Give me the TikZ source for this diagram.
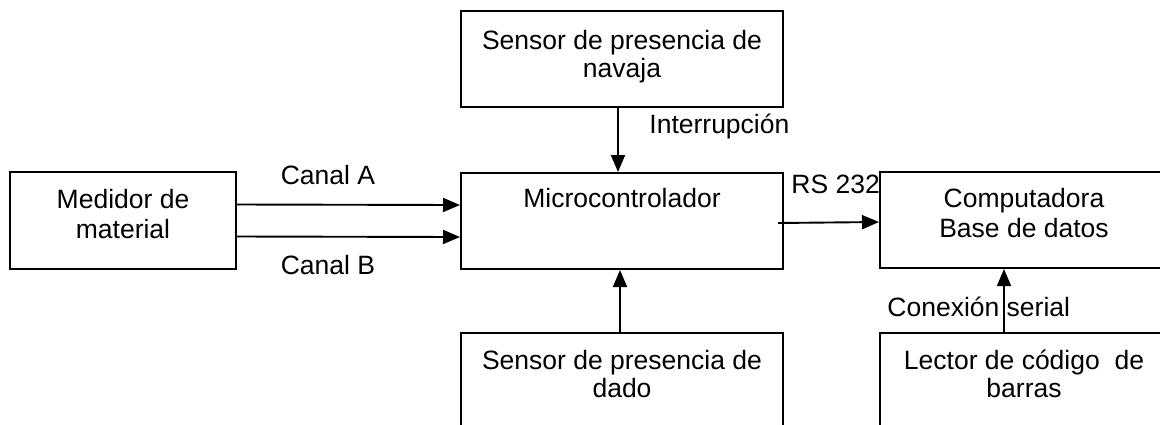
\documentclass[tikz,border=0pt]{standalone}
\usepackage{fontspec}
\setmainfont{Liberation Sans}
\usetikzlibrary{arrows.meta}
\begin{document}
\begin{tikzpicture}[x=0.5pt,y=-0.5pt,
  block/.style={draw, line width=1pt, inner sep=0pt, minimum height=48pt},
  wide/.style={block, minimum width=161pt},
  txt/.style={font=\fontsize{13.25}{14}\selectfont, align=center, inner sep=0pt, anchor=base},
  loose/.style={font=\fontsize{13.25}{15}\selectfont},
  lbl/.style={font=\fontsize{13.25}{14}\selectfont, inner sep=0pt},
  link/.style={line width=0.95pt, -{Triangle[length=8.5pt,width=7pt]}}]
\clip (0,0) rectangle (1160,424);
% blocks
\node[wide] (nav) at (622,59) {};
\node[block, minimum width=113pt, minimum height=48.5pt] (med) at (123,220.5) {};
\node[wide] (mic) at (622,221) {};
\node[block, minimum width=145pt] (comp) at (1025,220) {};
\node[wide] (dado) at (622,381) {};
\node[block, minimum width=145pt] (lect) at (1025,381) {};
% block texts (base = baseline of the last line)
\node[txt] (navt) at (622,77) {Sensor de presencia de\\navaja};
\node[txt, loose] (medt) at (123,238) {Medidor de\\material};
\node[txt] (mict) at (622,207) {Microcontrolador};
\node[txt, loose] (compt) at (1024,237) {Computadora\\Base de datos};
\node[txt] (dadot) at (622,397) {Sensor de presencia de\\dado};
\node[txt] (lectt) at (1024,397) {Lector de código~ de\\barras};
% connectors
\draw[link] ([xshift=-2pt]nav.south) -- ([xshift=-2pt]mic.north);
\draw[link] ([yshift=8pt]med.east) -- ([yshift=8pt]mic.west);
\draw[link] ([yshift=-8pt]med.east) -- ([yshift=-8pt]mic.west);
\draw[link] ([shift={(-3pt,-1pt)}]mic.east) -- ([yshift=-1pt]comp.west);
\draw[link] ([xshift=-1pt]dado.north) -- ([xshift=-1pt]mic.south);
\draw[link] ([xshift=-10.5pt]lect.north) -- ([xshift=-10.5pt]comp.south);
% connector labels
\node[lbl, anchor=base west] (intl) at (649,133) {Interrupción};
\node[lbl, anchor=base] (cal) at (328,184) {Canal A};
\node[lbl, anchor=base] (cbl) at (328,274) {Canal B};
\node[lbl, anchor=base west] (rsl) at (791,193) {RS 232};
\node[lbl, anchor=base west] (sel) at (887,316) {Conexión serial};
\end{tikzpicture}
\end{document}
